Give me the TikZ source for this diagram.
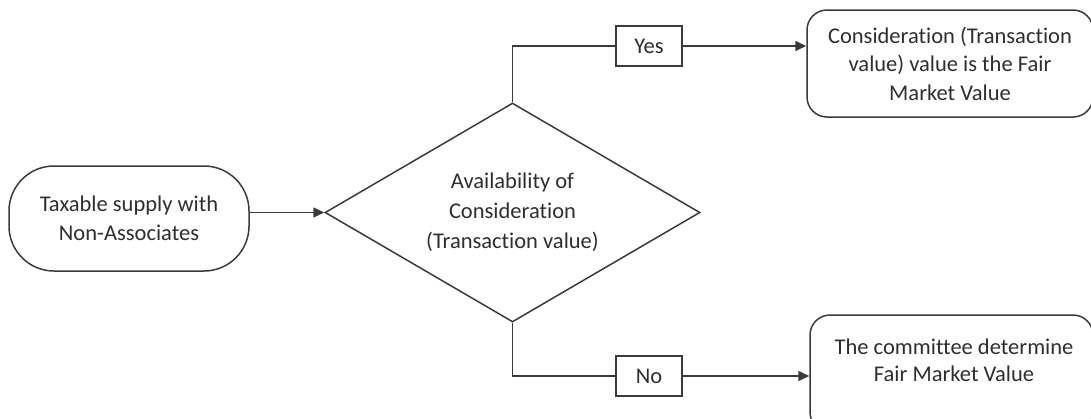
\documentclass[tikz,border=0pt]{standalone}
\usepackage{fontspec}
\setmainfont{Carlito}[Ligatures={NoCommon}]
\usetikzlibrary{shapes.geometric,arrows.meta}
\definecolor{linegray}{HTML}{3A3A3A}
\definecolor{textgray}{HTML}{2E2E2E}
\tikzset{
  box/.style={draw=linegray, line width=1.5pt, rounded corners=20pt, align=center,
    text=textgray, font=\fontsize{22.5}{28.5}\selectfont, inner sep=0pt},
  startbox/.style={box, rounded corners=45pt},
  decision/.style={draw=linegray, line width=1.5pt, shape=diamond, aspect=1.71,
    minimum width=375pt, minimum height=219pt, inner sep=0pt, align=center,
    text=textgray, font=\fontsize{22.5}{30}\selectfont},
  tag/.style={draw=linegray, line width=1.5pt, minimum width=66pt, minimum height=40pt,
    inner sep=0pt, text=textgray, font=\fontsize{22.5}{28}\selectfont},
  link/.style={draw=linegray, line width=1.5pt},
  arr/.style={link, -{Triangle[length=11pt,width=10pt]}},
}
\begin{document}
\begin{tikzpicture}[x=1pt, y=-1pt]
  \useasboundingbox (0,0) rectangle (1091,418);
  \clip (0,0) rectangle (1091,418);

  % start of the flow
  \node[startbox, minimum width=240pt, minimum height=105pt] (start) at (129,218.5)
    {Taxable supply with\\Non-Associates};

  % the decision
  \node[decision] (dec) at (512.5,212.5)
    {Availability of\\Consideration\\(Transaction value)};

  % branch labels
  \node[tag] (yes) at (649,46) {Yes};
  \node[tag] (no) at (649,376) {No};

  % outcomes
  \node[box, minimum width=286pt, minimum height=107pt] (fmv) at (950,63.5)
    {Consideration (Transaction\\value) value is the Fair\\Market Value};
  \node[box, minimum width=283pt, minimum height=117pt] (cmt) at (951.5,373.5) {};
  \node[text=textgray, font=\fontsize{22.5}{27}\selectfont, align=center, inner sep=0pt]
    (cmttext) at (954,360) {The committee determine\\Fair Market Value};

  % connectors
  \draw[arr] (start.east |- dec.west) -- (dec.west);
  \draw[link] (dec.north) |- (yes.west);
  \draw[arr] (yes.east) -- (fmv.west |- yes.east);
  \draw[link] (dec.south) |- (no.west);
  \draw[arr] (no.east) -- (cmt.west |- no.east);
\end{tikzpicture}
\end{document}
